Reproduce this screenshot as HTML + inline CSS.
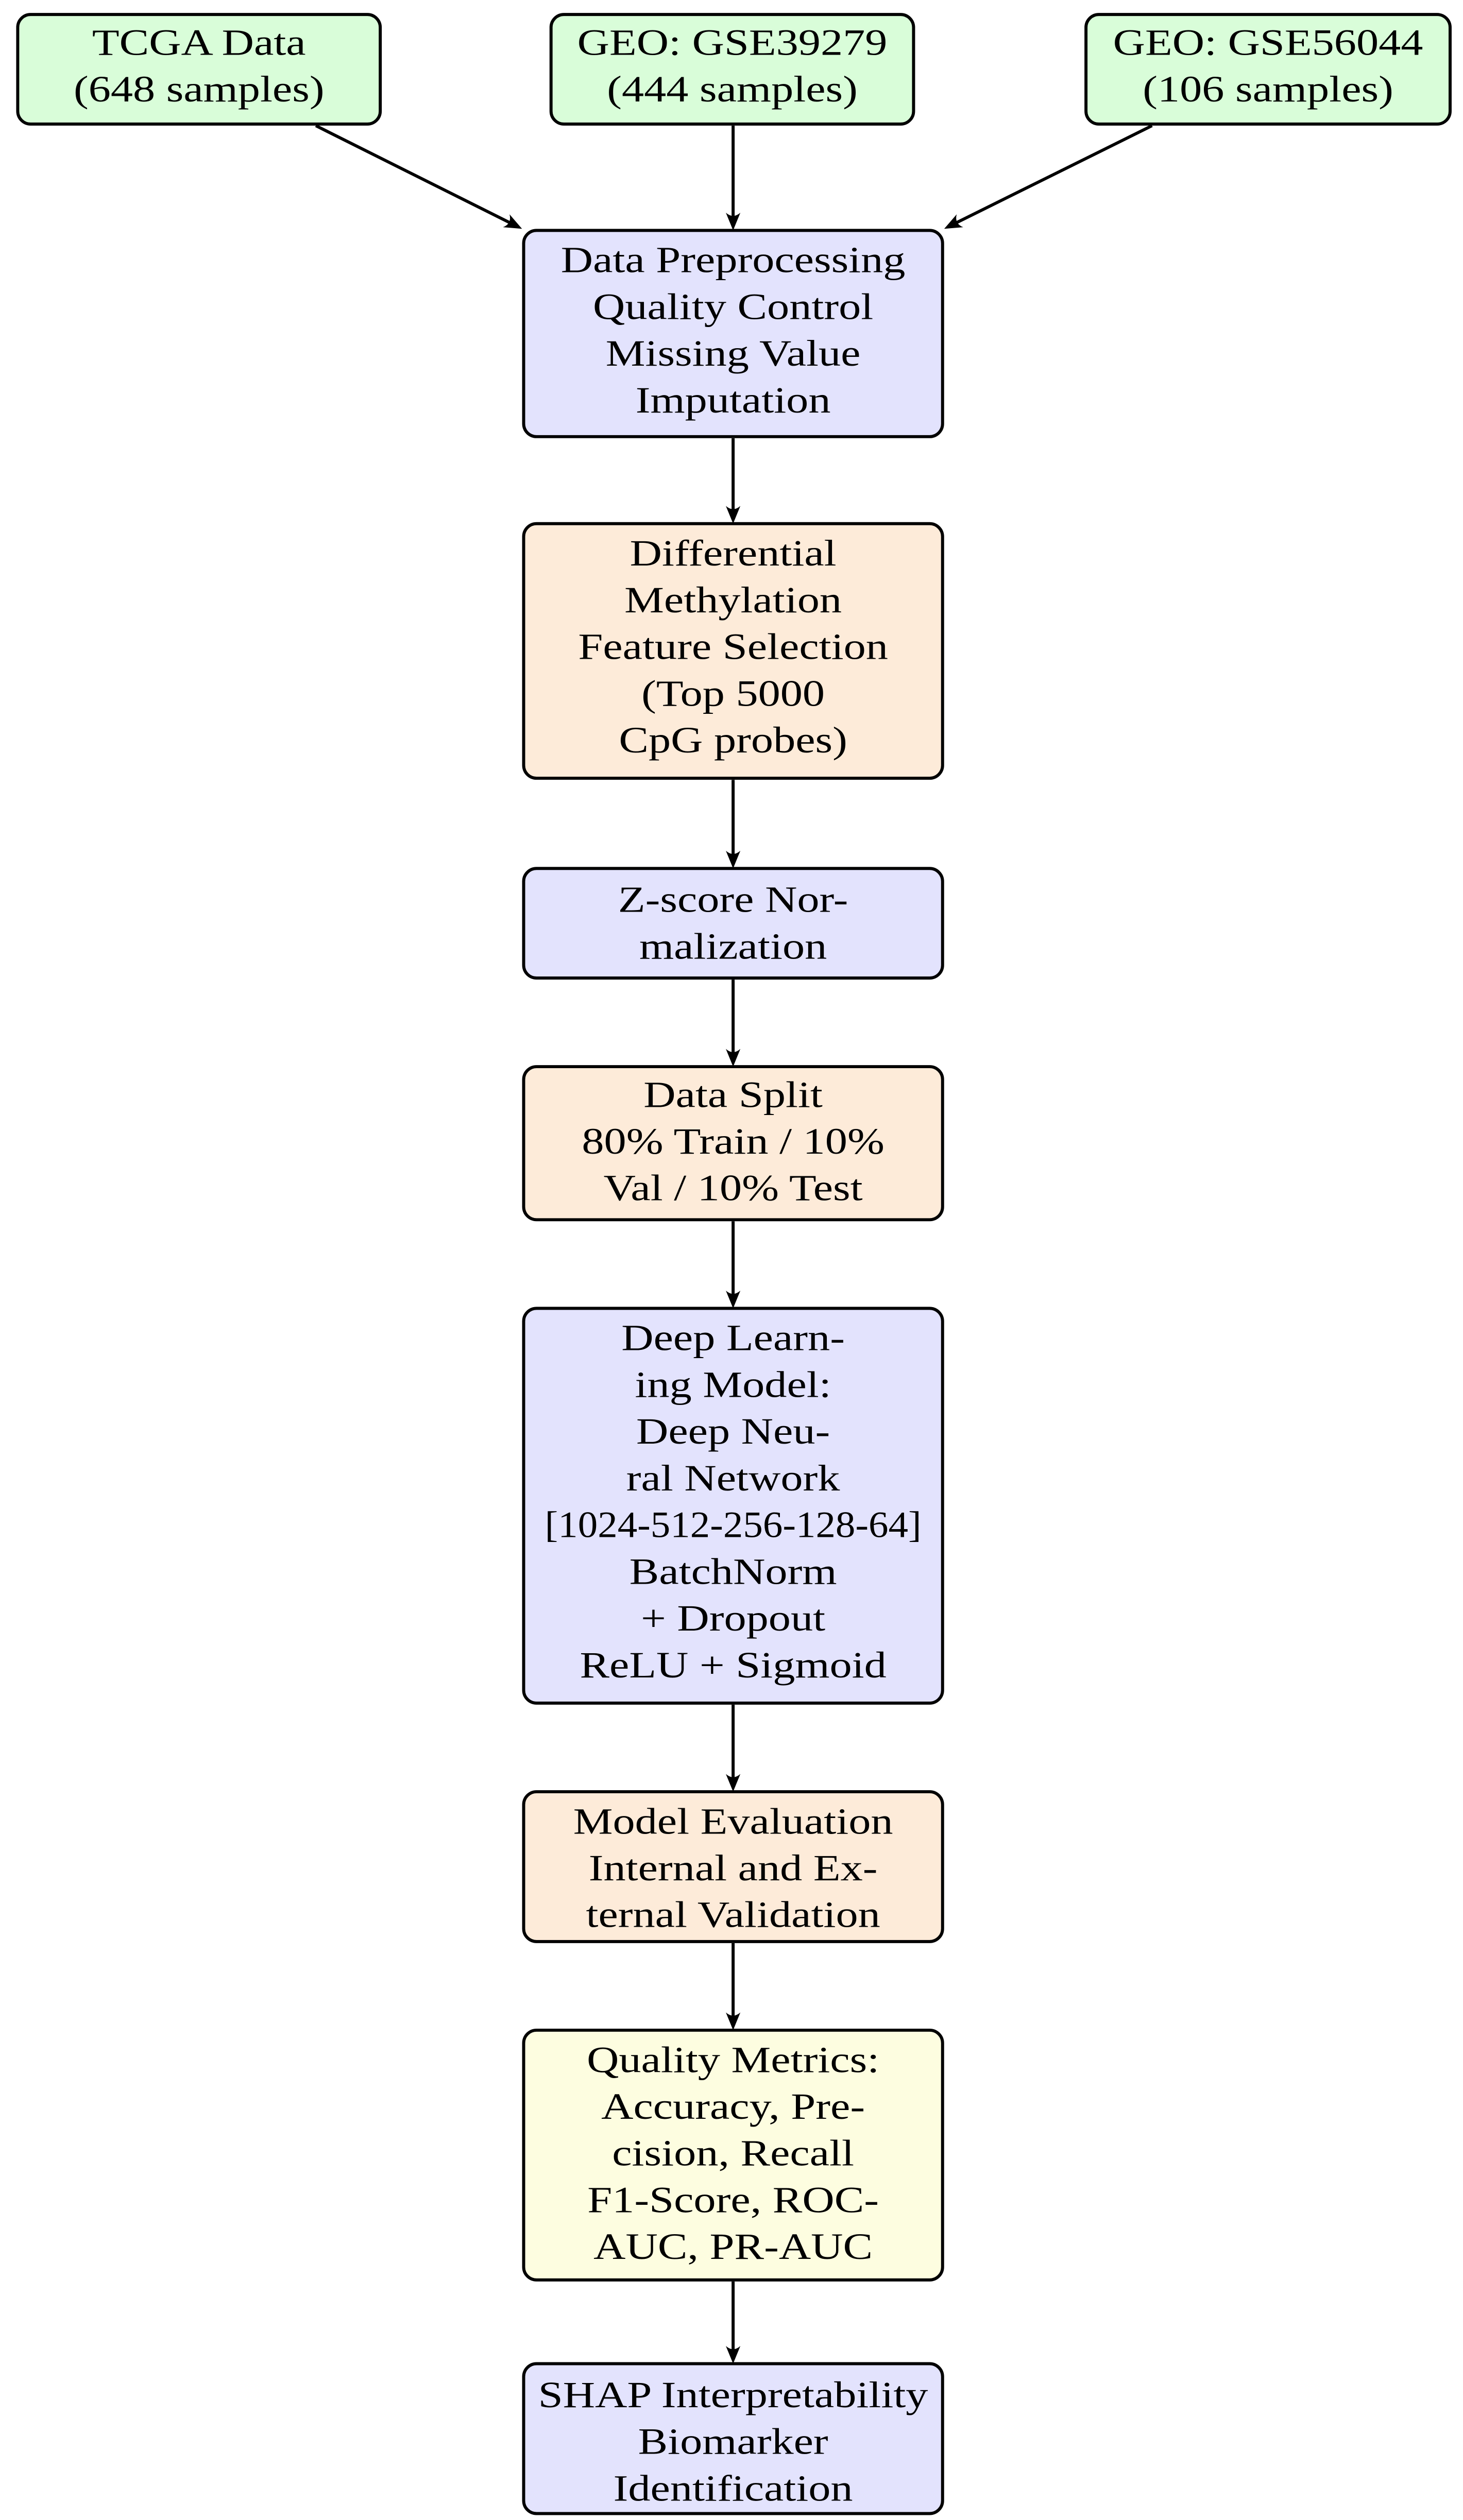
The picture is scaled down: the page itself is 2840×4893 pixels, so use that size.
<!DOCTYPE html>
<html><head><meta charset="utf-8"><style>
html,body{margin:0;padding:0;background:#fff;}
svg{display:block;}
text{font-family:"Liberation Serif",serif;font-size:23px;fill:#000;text-anchor:middle;}
</style></head><body>
<svg width="2840" height="4893" viewBox="0 0 908 1564" preserveAspectRatio="none" xmlns="http://www.w3.org/2000/svg">
<g stroke="#000" stroke-width="1.9">
<rect x="11" y="9" width="225" height="68" rx="8" fill="#d9fdd9"/>
<rect x="342" y="9" width="225" height="68" rx="8" fill="#d9fdd9"/>
<rect x="674" y="9" width="226" height="68" rx="8" fill="#d9fdd9"/>
<rect x="325" y="143" width="260" height="128" rx="8" fill="#e3e3fd"/>
<rect x="325" y="325" width="260" height="158" rx="8" fill="#fdebd9"/>
<rect x="325" y="539" width="260" height="68" rx="8" fill="#e3e3fd"/>
<rect x="325" y="662" width="260" height="95" rx="8" fill="#fdebd9"/>
<rect x="325" y="812" width="260" height="245" rx="8" fill="#e3e3fd"/>
<rect x="325" y="1112" width="260" height="93" rx="8" fill="#fdebd9"/>
<rect x="325" y="1260" width="260" height="155" rx="8" fill="#fdfde0"/>
<rect x="325" y="1467" width="260" height="93" rx="8" fill="#e3e3fd"/>
<g fill="none">
<line x1="196" y1="78" x2="318" y2="139"/>
<line x1="455" y1="78" x2="455" y2="138"/>
<line x1="715" y1="78" x2="592" y2="139"/>
<line x1="455" y1="272" x2="455" y2="320"/>
<line x1="455" y1="484" x2="455" y2="534"/>
<line x1="455" y1="608" x2="455" y2="657"/>
<line x1="455" y1="758" x2="455" y2="807"/>
<line x1="455" y1="1058" x2="455" y2="1107"/>
<line x1="455" y1="1206" x2="455" y2="1255"/>
<line x1="455" y1="1416" x2="455" y2="1462"/>
</g>
</g>
<g fill="#000">
<path d="M0,0 L-4.5,-11 Q0,-7 4.5,-11 Z" transform="translate(455,143)"/>
<path d="M0,0 L-4.5,-11 Q0,-7 4.5,-11 Z" transform="translate(455,325)"/>
<path d="M0,0 L-4.5,-11 Q0,-7 4.5,-11 Z" transform="translate(455,539)"/>
<path d="M0,0 L-4.5,-11 Q0,-7 4.5,-11 Z" transform="translate(455,662)"/>
<path d="M0,0 L-4.5,-11 Q0,-7 4.5,-11 Z" transform="translate(455,812)"/>
<path d="M0,0 L-4.5,-11 Q0,-7 4.5,-11 Z" transform="translate(455,1112)"/>
<path d="M0,0 L-4.5,-11 Q0,-7 4.5,-11 Z" transform="translate(455,1260)"/>
<path d="M0,0 L-4.5,-11 Q0,-7 4.5,-11 Z" transform="translate(455,1467)"/>
<path d="M0,0 L-4.5,-11 Q0,-7 4.5,-11 Z" transform="translate(324,142) rotate(-63)"/>
<path d="M0,0 L-4.5,-11 Q0,-7 4.5,-11 Z" transform="translate(586,142) rotate(63)"/>
</g>
<g transform="translate(123.5,0) scale(1.2,1) translate(-123.5,0)">
<text x="123.5" y="34">TCGA Data</text>
<text x="123.5" y="63">(648 samples)</text>
</g>
<g transform="translate(454.5,0) scale(1.2,1) translate(-454.5,0)">
<text x="454.5" y="34">GEO: GSE39279</text>
<text x="454.5" y="63">(444 samples)</text>
</g>
<g transform="translate(787,0) scale(1.2,1) translate(-787,0)">
<text x="787" y="34">GEO: GSE56044</text>
<text x="787" y="63">(106 samples)</text>
</g>
<g transform="translate(455,0) scale(1.07,1) translate(-455,0)">
<text x="455" y="954">[1024-512-256-128-64]</text>
</g>
<g transform="translate(455,0) scale(1.2,1) translate(-455,0)">
<text x="455" y="169">Data Preprocessing</text>
<text x="455" y="198">Quality Control</text>
<text x="455" y="227">Missing Value</text>
<text x="455" y="256">Imputation</text>
<text x="455" y="351">Differential</text>
<text x="455" y="380">Methylation</text>
<text x="455" y="409">Feature Selection</text>
<text x="455" y="438">(Top 5000</text>
<text x="455" y="467">CpG probes)</text>
<text x="455" y="566">Z-score Nor-</text>
<text x="455" y="595">malization</text>
<text x="455" y="687">Data Split</text>
<text x="455" y="716">80% Train / 10%</text>
<text x="455" y="745">Val / 10% Test</text>
<text x="455" y="838">Deep Learn-</text>
<text x="455" y="867">ing Model:</text>
<text x="455" y="896">Deep Neu-</text>
<text x="455" y="925">ral Network</text>
<text x="455" y="983">BatchNorm</text>
<text x="455" y="1012">+ Dropout</text>
<text x="455" y="1041">ReLU + Sigmoid</text>
<text x="455" y="1138">Model Evaluation</text>
<text x="455" y="1167">Internal and Ex-</text>
<text x="455" y="1196">ternal Validation</text>
<text x="455" y="1286">Quality Metrics:</text>
<text x="455" y="1315">Accuracy, Pre-</text>
<text x="455" y="1344">cision, Recall</text>
<text x="455" y="1373">F1-Score, ROC-</text>
<text x="455" y="1402">AUC, PR-AUC</text>
<text x="455" y="1494">SHAP Interpretability</text>
<text x="455" y="1523">Biomarker</text>
<text x="455" y="1552">Identification</text>
</g>
</svg>
</body></html>
